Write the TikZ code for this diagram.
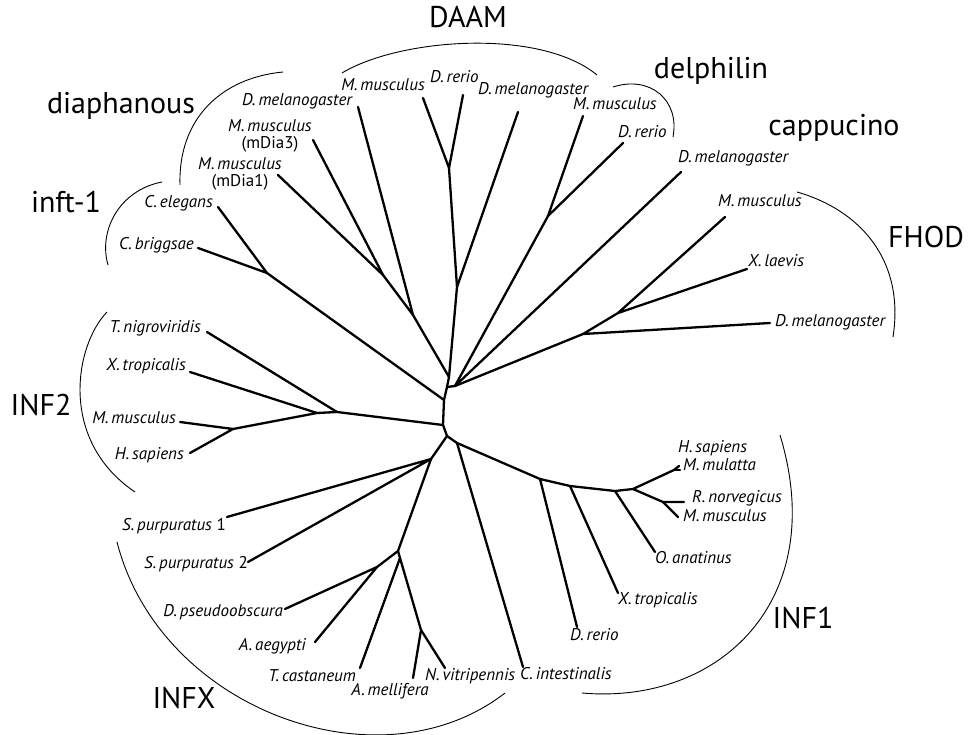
\documentclass[tikz,border=0pt]{standalone}
\usepackage{fontspec}
\setmainfont{PT Sans}
\begin{document}
\begin{tikzpicture}[x=1pt,y=-1pt,
  br/.style={line width=2.3pt, line cap=round, line join=round},
  grparc/.style={line width=0.9pt},
  sp/.style={font=\fontsize{17}{16.5}\selectfont\itshape, inner sep=0pt},
  grp/.style={font=\fontsize{30}{32}\selectfont, inner sep=0pt},
]
\useasboundingbox (0,0) rectangle (969,735);

% ---------- group labels ----------
\node[grp, anchor=mid] (tDAAM) at (468,25) {DAAM};
\node[grp, anchor=mid] (tdia) at (121,111) {diaphanous};
\node[grp, anchor=mid] (tinft) at (66,210) {inft-1};
\node[grp, anchor=mid] (tdel) at (711,76) {delphilin};
\node[grp, anchor=mid] (tcap) at (834,133) {cappucino};
\node[grp, anchor=mid] (tFHOD) at (926,245) {FHOD};
\node[grp, anchor=mid] (tINF2) at (41,413) {INF2};
\node[grp, anchor=mid] (tINFX) at (184,706) {INFX};
\node[grp, anchor=mid] (tINF1) at (803,626) {INF1};

% ---------- species labels ----------
\node[sp, anchor=mid] (lDmelDia) at (297,103) {D.\,melanogaster};
\node[sp, align=center] (lMd3) at (270,136) {M.\,musculus\\{\upshape (mDia3)}};
\node[sp, align=center] (lMd1) at (240,174) {M.\,musculus\\{\upshape (mDia1)}};
\node[sp, anchor=mid east] (lCel) at (213,205) {C.\,elegans};
\node[sp, anchor=mid east] (lCbr) at (194,247) {C.\,briggsae};
\node[sp, anchor=mid east] (lTni) at (201,330) {T.\,nigroviridis};
\node[sp, anchor=mid east] (lXtr2) at (186,368) {X.\,tropicalis};
\node[sp, anchor=mid east] (lMmu2) at (176,421) {M.\,musculus};
\node[sp, anchor=mid east] (lHsa2) at (184,457) {H.\,sapiens};
\node[sp, anchor=mid east] (lSp1) at (226,528) {S.\,purpuratus {\upshape 1}};
\node[sp, anchor=mid east] (lSp2) at (248,566) {S.\,purpuratus {\upshape 2}};
\node[sp, anchor=mid east] (lDps) at (283,614) {D.\,pseudoobscura};
\node[sp, anchor=mid east] (lAae) at (306,648) {A.\,aegypti};
\node[sp, anchor=mid east] (lTca) at (356,679) {T.\,castaneum};
\node[sp, anchor=mid] (lAme) at (390,693) {A.\,mellifera};
\node[sp, anchor=mid west] (lNvi) at (425,678) {N.\,vitripennis};
\node[sp, anchor=mid west] (lCin) at (520,677) {C.\,intestinalis};
\node[sp, anchor=mid west] (lDre1) at (570,638) {D.\,rerio};
\node[sp, anchor=mid west] (lXtr1) at (618,602) {X.\,tropicalis};
\node[sp, anchor=mid west] (lOan) at (655,561) {O.\,anatinus};
\node[sp, anchor=mid west] (lMmu1) at (683,519) {M.\,musculus};
\node[sp, anchor=mid west] (lRno) at (692,500) {R.\,norvegicus};
\node[sp, anchor=mid west] (lMml) at (683,468) {M.\,mulatta};
\node[sp, anchor=mid west] (lHsa1) at (678,450) {H.\,sapiens};
\node[sp, anchor=mid west] (lDmelF) at (775,324) {D.\,melanogaster};
\node[sp, anchor=mid west] (lXla) at (748,264) {X.\,laevis};
\node[sp, anchor=mid west] (lMmuF) at (718,204) {M.\,musculus};
\node[sp, anchor=mid west] (lDmelC) at (678,160) {D.\,melanogaster};
\node[sp, anchor=mid west] (lDreDel) at (618,135) {D.\,rerio};
\node[sp, anchor=mid west] (lMmuDel) at (573,107) {M.\,musculus};
\node[sp, anchor=mid west] (lDmelDA) at (478,92) {D.\,melanogaster};
\node[sp, anchor=mid west] (lDreDA) at (430,80) {D.\,rerio};
\node[sp, anchor=mid east] (lMmuDA) at (425,88) {M.\,musculus};

% ---------- tree coordinates ----------
\coordinate (A) at (449,377);
\coordinate (Bb) at (447,387);
\coordinate (B) at (455,386);
\coordinate (C) at (444,400);
\coordinate (D) at (443,425);
\coordinate (E) at (447,436);
\coordinate (E2) at (457,443);
% DAAM
\coordinate (daJ) at (449,168);
\coordinate (daS) at (457,287);
\coordinate (eMmuDA) at (423,98);
\coordinate (eDreDA) at (463,95);
\coordinate (eDmelDA) at (518,112);
% diaphanous
\coordinate (mdJ) at (383,275);
\coordinate (diaJ) at (413,315);
\coordinate (eMd3) at (313,140);
\coordinate (eMd1) at (278,175);
\coordinate (eDmelDia) at (358,107);
% inft-1
\coordinate (inftJ) at (267,273);
\coordinate (eCel) at (218,207);
\coordinate (eCbr) at (198,248);
% delphilin
\coordinate (delJ) at (548,216);
\coordinate (eMmuDel) at (583,116);
\coordinate (eDreDel) at (623,143);
% cappucino
\coordinate (eDmelC) at (681,172);
% FHOD
\coordinate (F1) at (583,334);
\coordinate (F2) at (618,313);
\coordinate (eMmuF) at (725,217);
\coordinate (eXla) at (747,269);
\coordinate (eDmelF) at (770,323);
% INF2
\coordinate (n2a) at (337,412);
\coordinate (n2b) at (317,413);
\coordinate (n2c) at (233,429);
\coordinate (eTni) at (207,332);
\coordinate (eXtr2) at (190,372);
\coordinate (eMmu2) at (180,422);
\coordinate (eHsa2) at (190,453);
% INFX
\coordinate (X1) at (431,459);
\coordinate (X2) at (398,551);
\coordinate (X2b) at (400,558);
\coordinate (X3) at (377,567);
\coordinate (X5) at (421,630);
\coordinate (eSp1) at (227,517);
\coordinate (eSp2) at (248,562);
\coordinate (eDps) at (285,609);
\coordinate (eAae) at (315,642);
\coordinate (eTca) at (360,668);
\coordinate (eAme) at (413,678);
\coordinate (eNvi) at (445,668);
\coordinate (eCin) at (523,667);
% INF1
\coordinate (I1) at (540,479);
\coordinate (I2) at (570,486);
\coordinate (I3) at (615,491);
\coordinate (I4) at (633,489);
\coordinate (P) at (674,470);
\coordinate (I5) at (663,502);
\coordinate (eDre1) at (577,627);
\coordinate (eXtr1) at (618,593);
\coordinate (eOan) at (655,552);
\coordinate (eHsa1) at (679,466);
\coordinate (eMml) at (680,470);
\coordinate (eRno) at (684,502);
\coordinate (eMmu1) at (678,517);

% ---------- branches ----------
\draw[br] (eMmuDA) -- (daJ) -- (eDreDA);
\draw[br] (daJ) -- (daS) -- (A);
\draw[br] (eDmelDA) -- (daS);
\draw[br] (eMd3) -- (mdJ) -- (eMd1);
\draw[br] (mdJ) -- (diaJ) -- (A);
\draw[br] (eDmelDia) -- (diaJ);
\draw[br] (eCel) -- (inftJ) -- (eCbr);
\draw[br] (inftJ) -- (C);
\draw[br] (A) -- (Bb) -- (C) -- (D) -- (E) -- (E2);
\draw[br] (B) -- (Bb);
\draw[br] (eMmuDel) -- (delJ) -- (eDreDel);
\draw[br] (delJ) -- (B);
\draw[br] (eDmelC) -- (B);
\draw[br] (F1) -- (B);
\draw[br] (eMmuF) -- (F2) -- (eXla);
\draw[br] (F2) -- (F1) -- (eDmelF);
\draw[br] (D) -- (n2a) -- (n2b) -- (n2c);
\draw[br] (n2a) -- (eTni);
\draw[br] (n2b) -- (eXtr2);
\draw[br] (eMmu2) -- (n2c) -- (eHsa2);
\draw[br] (E) -- (X1) -- (X2) -- (X3);
\draw[br] (eSp1) -- (X1) -- (eSp2);
\draw[br] (eDps) -- (X3) -- (eAae);
\draw[br] (X2) -- (X2b) -- (eTca);
\draw[br] (X2b) -- (X5) -- (eAme);
\draw[br] (X5) -- (eNvi);
\draw[br] (E2) -- (eCin);
\draw[br] (E2) -- (I1) -- (I2) -- (I3) -- (I4) -- (P) -- (eHsa1);
\draw[br] (P) -- (eMml);
\draw[br] (I4) -- (I5) -- (eRno);
\draw[br] (I5) -- (eMmu1);
\draw[br] (I1) -- (eDre1);
\draw[br] (I2) -- (eXtr1);
\draw[br] (I3) -- (eOan);

% ---------- group arcs ----------
\draw[grparc] (342,73) .. controls (400,38) and (540,28) .. (597,75);
\draw[grparc] (283,72) .. controls (220,78) and (178,120) .. (180,185);
\draw[grparc] (162,182) .. controls (120,190) and (98,230) .. (108,265);
\draw[grparc] (613,87) .. controls (650,75) and (680,100) .. (673,137);
\draw[grparc] (797,192) .. controls (860,210) and (905,260) .. (893,337);
\draw[grparc] (107,312) .. controls (75,345) and (58,440) .. (135,492);
\draw[grparc] (117,542) .. controls (160,710) and (380,790) .. (505,693);
\draw[grparc] (582,693) .. controls (720,705) and (830,600) .. (780,435);
\end{tikzpicture}
\end{document}
